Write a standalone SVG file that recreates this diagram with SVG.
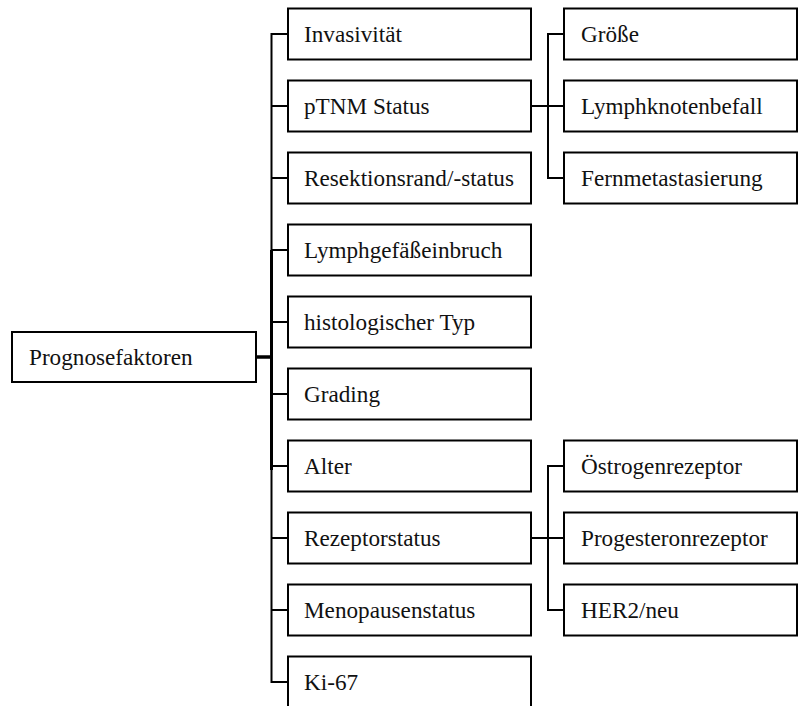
<svg xmlns="http://www.w3.org/2000/svg" width="798" height="706" viewBox="0 0 798 706">
<style>
.box{fill:#fff;stroke:#000;stroke-width:2}
.t{font-family:"Liberation Serif","Times New Roman",serif;font-size:23.2px;fill:#111}
.c{fill:none;stroke:#000;stroke-width:2}
</style>
<rect width="798" height="706" fill="#fff"/>
<g id="connectors">
<path class="c" d="M256,357 H271.5" style="stroke-width:3.5"/>
<path class="c" d="M271.5,250 V470" style="stroke-width:3"/>
<path class="c" d="M288,34 H271.5 V682 H288"/>
<path class="c" d="M271.5,106 H288 M271.5,178 H288 M271.5,250 H288 M271.5,322 H288 M271.5,394 H288 M271.5,466 H288 M271.5,538 H288 M271.5,610 H288"/>
<path class="c" d="M531,106 H548"/>
<path class="c" d="M564,34 H548 V178 H564 M548,106 H564"/>
<path class="c" d="M531,538 H548"/>
<path class="c" d="M564,466 H548 V610 H564 M548,538 H564"/>
</g>
<g id="root"><rect class="box" x="12" y="332" width="244" height="50"/><text class="t" x="29" y="365">Prognosefaktoren</text></g>
<g id="n1"><rect class="box" x="288" y="8.5" width="243" height="51"/><text class="t" x="304" y="41.5">Invasivität</text></g>
<g id="n2"><rect class="box" x="288" y="80.5" width="243" height="51"/><text class="t" x="304" y="113.5">pTNM Status</text></g>
<g id="n3"><rect class="box" x="288" y="152.5" width="243" height="51"/><text class="t" x="304" y="185.5">Resektionsrand/-status</text></g>
<g id="n4"><rect class="box" x="288" y="224.5" width="243" height="51"/><text class="t" x="304" y="257.5">Lymphgefäßeinbruch</text></g>
<g id="n5"><rect class="box" x="288" y="296.5" width="243" height="51"/><text class="t" x="304" y="329.5">histologischer Typ</text></g>
<g id="n6"><rect class="box" x="288" y="368.5" width="243" height="51"/><text class="t" x="304" y="401.5">Grading</text></g>
<g id="n7"><rect class="box" x="288" y="440.5" width="243" height="51"/><text class="t" x="304" y="473.5">Alter</text></g>
<g id="n8"><rect class="box" x="288" y="512.5" width="243" height="51"/><text class="t" x="304" y="545.5">Rezeptorstatus</text></g>
<g id="n9"><rect class="box" x="288" y="584.5" width="243" height="51"/><text class="t" x="304" y="617.5">Menopausenstatus</text></g>
<g id="n10"><rect class="box" x="288" y="656.5" width="243" height="51"/><text class="t" x="304" y="689.5">Ki-67</text></g>
<g id="s1"><rect class="box" x="564" y="8.5" width="233" height="51"/><text class="t" x="581" y="41.5">Größe</text></g>
<g id="s2"><rect class="box" x="564" y="80.5" width="233" height="51"/><text class="t" x="581" y="113.5">Lymphknotenbefall</text></g>
<g id="s3"><rect class="box" x="564" y="152.5" width="233" height="51"/><text class="t" x="581" y="185.5">Fernmetastasierung</text></g>
<g id="s4"><rect class="box" x="564" y="440.5" width="233" height="51"/><text class="t" x="581" y="473.5">Östrogenrezeptor</text></g>
<g id="s5"><rect class="box" x="564" y="512.5" width="233" height="51"/><text class="t" x="581" y="545.5">Progesteronrezeptor</text></g>
<g id="s6"><rect class="box" x="564" y="584.5" width="233" height="51"/><text class="t" x="581" y="617.5">HER2/neu</text></g>
</svg>
